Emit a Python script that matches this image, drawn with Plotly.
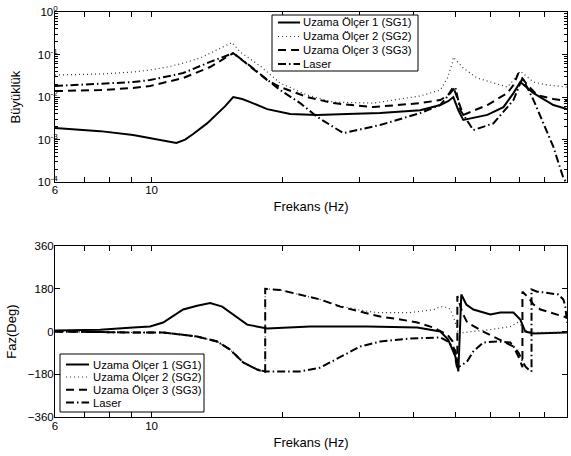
import math
import plotly.graph_objects as go

# ---------------- data ----------------
series_names = ["Uzama Ölçer 1 (SG1)", "Uzama Ölçer 2 (SG2)", "Uzama Ölçer 3 (SG3)", "Laser"]

# Magnitude (Büyüklük)
sg1_mag_f = [6.00, 7.62, 9.07, 9.92, 10.86, 11.40, 11.94, 12.46, 13.41, 14.14, 14.76, 15.40, 16.15, 16.85,
             18.43, 20.82, 24.02, 28.15, 33.5, 41.4, 46.05, 48.0, 49.33, 50.66, 52.0, 59.05, 64.3, 67.8,
             70.3, 73.0, 75.4, 83.75, 90.0]
sg1_mag = [0.00187, 0.00158, 0.00128, 0.00108, 0.00092, 0.00083, 0.00100, 0.00135, 0.0024, 0.0040, 0.0061,
           0.0100, 0.0090, 0.0076, 0.0052, 0.0040, 0.0038, 0.0040, 0.0042, 0.0049, 0.0065, 0.0080, 0.0100,
           0.0049, 0.0029, 0.0038, 0.0058, 0.0124, 0.0225, 0.0163, 0.0124, 0.0065, 0.0052]

sg2_mag_f = [6.00, 7.62, 9.07, 9.92, 10.86, 11.82, 12.93, 14.14, 15.31, 15.98, 17.77, 19.74, 22.78, 26.14,
             32.3, 41.4, 46.05, 47.8, 49.08, 49.33, 50.39, 52.0, 56.0, 60.97, 65.67, 67.8, 70.3, 73.0,
             75.4, 81.1, 90.0]
sg2_mag = [0.033, 0.0348, 0.0388, 0.0432, 0.0508, 0.063, 0.0827, 0.1276, 0.1915, 0.1145, 0.0536, 0.0213,
           0.0111, 0.0076, 0.0072, 0.0106, 0.0146, 0.028, 0.063, 0.087, 0.067, 0.048, 0.028, 0.0213, 0.0172,
           0.0251, 0.0409, 0.0296, 0.0225, 0.0192, 0.0172]

sg3_mag_f = [6.00, 7.62, 9.07, 9.92, 11.82, 13.63, 15.40, 16.85, 18.43, 19.74, 22.78, 26.14, 32.3, 41.4,
             46.05, 48.0, 49.33, 52.0, 59.05, 65.67, 67.8, 69.6, 73.0, 76.9, 83.75, 90.0]
sg3_mag = [0.0138, 0.0146, 0.0163, 0.0182, 0.028, 0.0508, 0.108, 0.0508, 0.0251, 0.0172, 0.0100, 0.0072,
           0.0058, 0.0072, 0.0085, 0.0111, 0.0172, 0.0038, 0.0065, 0.0124, 0.0192, 0.0367, 0.0192, 0.0111,
           0.0090, 0.0081]

laser_mag_f = [6.00, 7.62, 9.07, 9.92, 11.82, 13.63, 15.40, 16.85, 18.43, 19.74, 21.95, 24.02, 27.56, 33.5,
               41.4, 46.05, 49.86, 51.2, 54.84, 60.97, 67.8, 71.1, 75.4, 79.4, 83.75, 88.3, 89.6]
laser_mag = [0.0182, 0.0202, 0.0225, 0.0251, 0.0367, 0.067, 0.108, 0.0536, 0.0251, 0.0146, 0.0072, 0.0034,
             0.00142, 0.0022, 0.0042, 0.0065, 0.0172, 0.0049, 0.00167, 0.0024, 0.0085, 0.028, 0.0085, 0.0024,
             0.00067, 0.000124, 0.0001]

# Phase (Faz, degrees)
sg1_ph_f = [6.0, 7.62, 9.07, 9.92, 10.63, 11.82, 12.72, 13.63, 14.53, 15.15, 16.58, 18.43, 23.14, 31.29,
            40.77, 46.05, 48.0, 49.86, 50.66, 51.46, 52.84, 54.84, 60.0, 63.3, 67.8, 70.3, 72.2, 75.4, 90.0]
sg1_ph = [4, 8, 17, 21, 38, 93, 109, 120, 105, 80, 29, 13, 21, 21, 17, 0, -34, -105, -168, 156, 114, 93, 72,
          80, 80, 50, 0, -8, -4]

sg2_ph_f = [6.0, 7.62, 9.07, 10.63, 12.72, 14.14, 15.15, 16.23, 17.48, 18.24, 18.24, 19.74, 21.95, 24.40,
            27.13, 30.15, 33.0, 39.3, 44.4, 46.05, 47.8, 48.56, 49.33, 49.86, 50.66, 51.73, 52.0, 60.0, 66.7,
            69.2, 70.3, 72.2, 75.4, 90.0]
sg2_ph = [0, -4, -4, -4, -21, -42, -76, -130, -160, -172, 180, 175, 156, 135, 108, 90, 80, 80, 92, 105, 101,
          93, 60, 38, -10, -8, -4, 8, 21, 38, 30, 5, -3, -3]

sg3_ph_f = [6.0, 7.62, 9.07, 10.63, 12.72, 14.14, 15.15, 16.23, 17.48, 18.24, 18.24, 19.74, 21.95, 24.40,
            27.13, 30.15, 33.5, 37.3, 40.77, 44.4, 47.8, 49.08, 50.12, 50.39, 50.39, 51.73, 53.1, 57.8, 64.3,
            67.8, 69.6, 71.1, 71.1, 73.4, 75.4, 78.2, 82.4, 85.5, 90.0]
sg3_ph = [0, -4, -4, -4, -21, -42, -76, -130, -160, -172, 180, 175, 156, 135, 105, 84, 63, 51, 38, 17, -13,
          -40, -130, -160, 150, 80, 38, 0, -42, -63, -105, -150, 168, 143, 114, 93, 80, 72, 59]

laser_ph_f = [6.0, 7.62, 9.07, 10.63, 12.72, 14.14, 15.15, 16.23, 17.48, 18.24, 21.95, 24.40, 27.13, 30.15,
              33.5, 39.3, 46.05, 48.0, 49.86, 50.66, 51.73, 53.1, 54.84, 57.8, 62.3, 66.7, 69.6, 72.2, 73.4,
              74.6, 74.6, 76.9, 80.3, 86.0, 88.3, 89.2, 90.0]
laser_ph = [0, -4, -4, -4, -21, -42, -76, -130, -160, -168, -168, -152, -109, -63, -42, -29, -25, -42, -80,
            -150, -140, -125, -84, -46, -42, -46, -88, -147, -160, -168, 177, 168, 164, 156, 135, 105, 38]

# Axis ticks
x_tickvals = [6, 10, 90]
x_ticktext = ["6", "10", "90"]
x_minor = [7, 8, 9, 20, 30, 40, 50, 60, 70, 80]
mag_tickvals = [1e-4, 1e-3, 1e-2, 1e-1, 1]
mag_ticktext = ["10<sup>-4</sup>", "10<sup>-3</sup>", "10<sup>-2</sup>", "10<sup>-1</sup>", "10<sup>0</sup>"]
mag_minor = [m * 10 ** e for e in range(-4, 0) for m in range(2, 10)]
ph_tickvals = [-360, -180, 0, 180, 360]
ph_ticktext = ["\u2212360", "\u2212180", "0", "180", "360"]

# ---------------- figure ----------------
W, H = 571, 456
ML, MR, MT, MB = 55, 4, 12, 39
FONT = "Liberation Sans, Arial, Helvetica, sans-serif"
TICK_SIZE = 11.5
TITLE_SIZE = 13
LEGEND_SIZE = 11.3
styles = [
    dict(color="black", width=2, dash="solid"),
    dict(color="#333333", width=1.2, dash="1px,3px"),
    dict(color="black", width=2, dash="8px,5px"),
    dict(color="black", width=2, dash="8px,3px,1.5px,3px"),
]

mag_sets = [(sg1_mag_f, sg1_mag), (sg2_mag_f, sg2_mag), (sg3_mag_f, sg3_mag), (laser_mag_f, laser_mag)]
ph_sets = [(sg1_ph_f, sg1_ph), (sg2_ph_f, sg2_ph), (sg3_ph_f, sg3_ph), (laser_ph_f, laser_ph)]

fig = go.Figure()
for name, st, (fx, fy) in zip(series_names, styles, mag_sets):
    fig.add_trace(go.Scatter(x=fx, y=fy, mode="lines", name=name, line=st,
                             xaxis="x", yaxis="y", showlegend=False))
for name, st, (fx, fy) in zip(series_names, styles, ph_sets):
    fig.add_trace(go.Scatter(x=fx, y=fy, mode="lines", name=name, line=st,
                             xaxis="x2", yaxis="y2", showlegend=False))

axis_common = dict(showline=True, linecolor="black", linewidth=1, mirror="ticks", showgrid=False,
                   zeroline=False, ticks="inside", ticklen=5, tickcolor="black", tickwidth=1,
                   automargin=False, tickfont=dict(family=FONT, size=TICK_SIZE, color="black"))
xminor = dict(tickmode="array", tickvals=x_minor, ticks="inside", ticklen=5, tickcolor="black",
              tickwidth=1, showgrid=False)

xr = [math.log10(6), math.log10(90)]
fig.update_layout(
    template="none",
    width=W, height=H, autosize=False,
    margin=dict(l=ML, r=MR, t=MT, b=MB),
    paper_bgcolor="white", plot_bgcolor="white",
    font=dict(family=FONT, size=TICK_SIZE, color="black"),
    showlegend=False,
    xaxis=dict(type="log", range=xr, domain=[0, 1], anchor="y", tickmode="array",
               tickvals=x_tickvals, ticktext=x_ticktext, minor=xminor, ticklabelstandoff=-3,
               title=dict(text="Frekans (Hz)", font=dict(family=FONT, size=TITLE_SIZE), standoff=6),
               **axis_common),
    yaxis=dict(type="log", range=[-4, 0], domain=[0.58, 1], anchor="x", tickmode="array",
               tickvals=mag_tickvals, ticktext=mag_ticktext, ticklabelstandoff=-6,
               minor=dict(tickmode="array", tickvals=mag_minor, ticks="inside", ticklen=3,
                          tickcolor="black", showgrid=False),
               title=dict(text="Büyüklük", font=dict(family=FONT, size=TITLE_SIZE), standoff=14),
               **axis_common),
    xaxis2=dict(type="log", range=xr, domain=[0, 1], anchor="y2", tickmode="array",
                tickvals=x_tickvals, ticktext=x_ticktext, minor=xminor, ticklabelstandoff=-2,
                title=dict(text="Frekans (Hz)", font=dict(family=FONT, size=TITLE_SIZE), standoff=7),
                **axis_common),
    yaxis2=dict(range=[-360, 360], domain=[0, 0.422], anchor="x2", tickmode="array",
                tickvals=ph_tickvals, ticktext=ph_ticktext, ticklabelstandoff=-2,
                title=dict(text="Faz(Deg)", font=dict(family=FONT, size=TITLE_SIZE), standoff=8),
                **axis_common),
)

# ---------------- legends (box, key lines and labels, placed in pixels of the page) ----------------
PW, PH = W - ML - MR, H - MT - MB


def px_x(px):
    return (px - ML) / PW


def px_y(py):
    return (H - MB - py) / PH


legend_boxes = [
    dict(box=(272, 15, 418, 71), rows=[22.5, 36.5, 50.0, 64.0], key=(278, 300), text_x=302),
    dict(box=(60, 354, 204, 412), rows=[364.5, 377.0, 389.7, 402.5], key=(66, 89), text_x=92),
]
shapes = []
annotations = []
for lg in legend_boxes:
    bx0, by0, bx1, by1 = lg["box"]
    shapes.append(dict(type="rect", xref="paper", yref="paper", x0=px_x(bx0), x1=px_x(bx1),
                       y0=px_y(by1), y1=px_y(by0), fillcolor="white",
                       line=dict(color="black", width=1), layer="above"))
    k0, k1 = lg["key"]
    for name, st, ry in zip(series_names, styles, lg["rows"]):
        shapes.append(dict(type="line", xref="paper", yref="paper", x0=px_x(k0), x1=px_x(k1),
                           y0=px_y(ry), y1=px_y(ry), layer="above",
                           line=dict(color=st["color"], width=st["width"], dash=st["dash"])))
        annotations.append(dict(text=name, xref="paper", yref="paper", x=px_x(lg["text_x"]), y=px_y(ry),
                                xanchor="left", yanchor="middle", showarrow=False, borderpad=0,
                                font=dict(family=FONT, size=LEGEND_SIZE, color="black")))

fig.update_layout(shapes=shapes, annotations=annotations)

# the page body gets no default margin, so the figure sits at the window's top-left corner
fig.write_html("out.html", config={"displayModeBar": False, "staticPlot": True},
               post_script="document.body.style.margin='0px';document.body.style.padding='0px';")
